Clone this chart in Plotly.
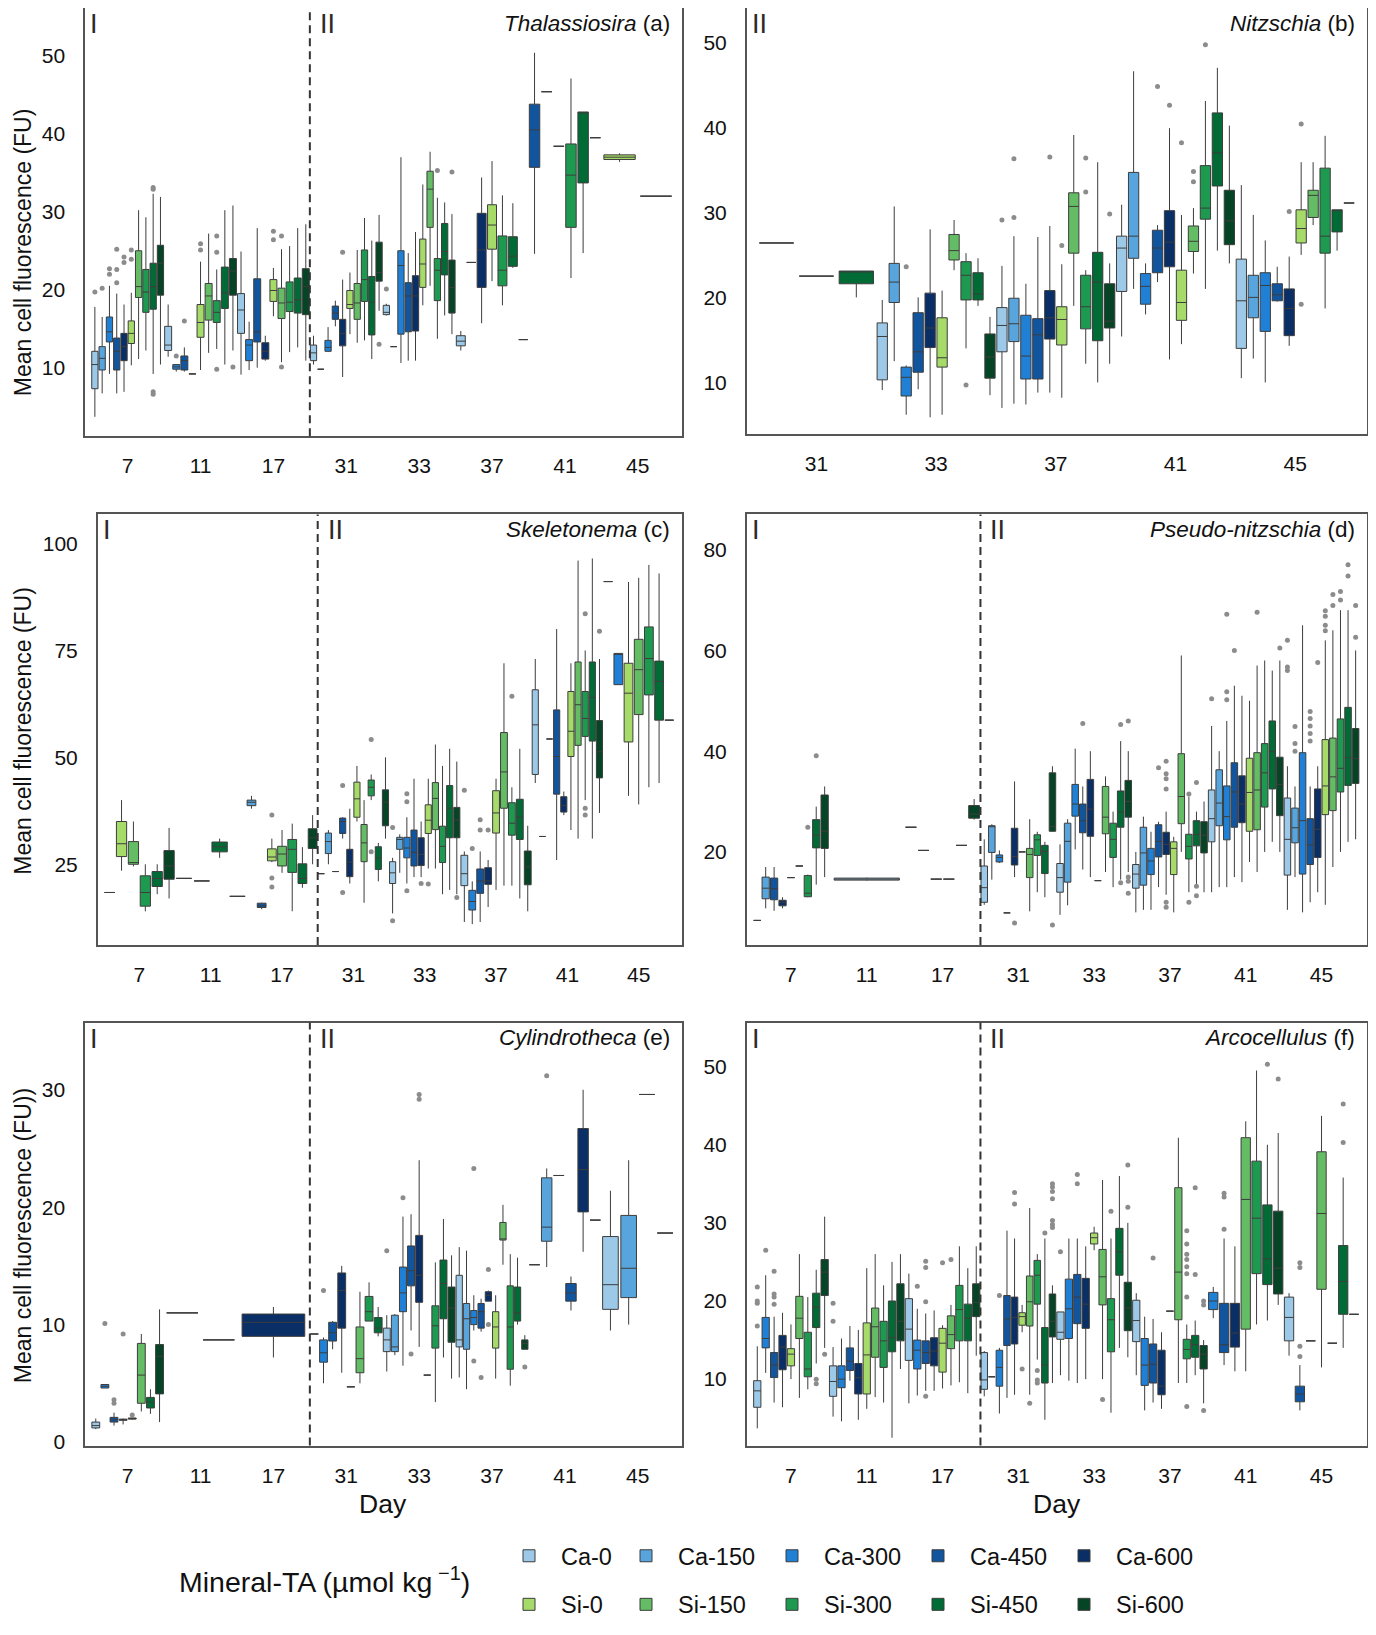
import plotly.graph_objects as go

# treatments and their fill colours
treatments = ["Ca-0", "Ca-150", "Ca-300", "Ca-450", "Ca-600",
              "Si-0", "Si-150", "Si-300", "Si-450", "Si-600"]
colors = ["#9dc9e8", "#58a5de", "#1f80d6", "#11559f", "#0a2f66",
          "#a6da69", "#64bd64", "#1e9a50", "#016b36", "#054526"]

days_full = ["7", "11", "17", "31", "33", "37", "41", "45"]
days_phase2 = ["31", "33", "37", "41", "45"]

# box rows: (day, treatment, lower whisker, q1, median, q3, upper whisker)
# rows with a single value are samples with one observation
thal_boxes = [
    ("7", "Ca-0", 3.7, 7.3, 10.4, 12.1, 17.8), ("7", "Ca-150", 6.7, 9.7, 11.2, 12.7, 16.5),
    ("7", "Ca-300", 9.2, 13.3, 14.6, 16.5, 20.5), ("7", "Ca-450", 6.7, 9.7, 12.1, 13.8, 19.5),
    ("7", "Ca-600", 6.9, 10.9, 12.7, 14.4, 18.1), ("7", "Si-0", 10.3, 13.1, 14.4, 16.0, 19.6),
    ("7", "Si-150", 11.1, 19.0, 20.4, 25.0, 30.2), ("7", "Si-300", 12.2, 17.1, 19.7, 22.6, 29.3),
    ("7", "Si-450", 9.2, 17.5, 20.4, 23.4, 32.3), ("7", "Si-600", 10.4, 19.3, 23.4, 25.7, 31.9),
    ("11", "Ca-0", 11.4, 12.2, 12.9, 15.3, 18.1), ("11", "Ca-300", 9.5, 9.8, 10.1, 10.4, 10.4),
    ("11", "Ca-450", 9.5, 9.7, 10.9, 11.5, 12.6), ("11", "Ca-600", 9.2),
    ("11", "Si-0", 9.7, 13.9, 15.8, 18.1, 23.6), ("11", "Si-150", 11.9, 16.1, 19.2, 20.8, 27.2),
    ("11", "Si-300", 12.4, 15.8, 17.1, 18.6, 22.6), ("11", "Si-450", 10.4, 17.6, 19.6, 22.9, 30.2),
    ("11", "Si-600", 12.2, 19.3, 22.4, 24.0, 30.8),
    ("17", "Ca-0", 9.1, 14.4, 17.4, 19.5, 24.9), ("17", "Ca-300", 9.7, 10.9, 12.9, 13.6, 15.9),
    ("17", "Ca-450", 10.0, 13.3, 14.6, 21.4, 27.9), ("17", "Ca-600", 10.9, 11.1, 12.1, 13.2, 14.1),
    ("17", "Si-0", 16.6, 18.5, 19.9, 21.3, 22.8), ("17", "Si-150", 10.7, 16.3, 18.3, 20.2, 25.2),
    ("17", "Si-300", 12.0, 17.2, 18.4, 21.0, 25.6), ("17", "Si-450", 12.6, 17.0, 18.7, 21.5, 27.9),
    ("17", "Si-600", 10.9, 16.8, 20.4, 22.7, 28.4),
    ("31", "Ca-0", 10.4, 10.9, 11.9, 12.9, 14.1), ("31", "Ca-150", 9.8),
    ("31", "Ca-300", 12.0, 12.1, 12.6, 13.5, 15.2), ("31", "Ca-450", 15.3, 16.2, 17.0, 17.9, 18.6),
    ("31", "Ca-600", 8.8, 12.8, 14.4, 16.2, 21.3), ("31", "Si-0", 14.3, 17.6, 18.1, 19.9, 22.2),
    ("31", "Si-150", 13.2, 16.2, 18.3, 20.8, 25.1), ("31", "Si-300", 13.5, 18.5, 21.3, 25.1, 29.2),
    ("31", "Si-450", 11.1, 14.2, 18.4, 21.7, 26.3), ("31", "Si-600", 17.3, 21.1, 22.2, 26.1, 29.6),
    ("33", "Ca-0", 16.7, 16.8, 17.1, 18.0, 18.2), ("33", "Ca-150", 12.7),
    ("33", "Ca-300", 10.6, 14.3, 23.1, 25.0, 37.0), ("33", "Ca-450", 10.9, 14.6, 19.2, 20.9, 24.7),
    ("33", "Ca-600", 10.9, 14.7, 19.2, 21.8, 27.4), ("33", "Si-0", 18.0, 20.3, 23.3, 26.5, 33.5),
    ("33", "Si-150", 20.5, 28.0, 32.9, 35.2, 37.7), ("33", "Si-300", 13.7, 18.6, 22.5, 24.0, 31.8),
    ("33", "Si-450", 16.7, 21.9, 24.9, 28.5, 31.2), ("33", "Si-600", 14.3, 17.0, 20.3, 23.8, 29.7),
    ("37", "Ca-0", 12.2, 12.8, 13.4, 14.1, 14.7), ("37", "Ca-150", 23.5),
    ("37", "Ca-600", 15.7, 20.3, 25.1, 29.8, 34.4), ("37", "Si-0", 21.1, 25.2, 28.3, 30.9, 36.5),
    ("37", "Si-300", 18.0, 20.5, 22.5, 26.9, 32.1), ("37", "Si-450", 22.8, 23.0, 24.3, 26.8, 31.1),
    ("37", "Si-600", 13.6),
    ("41", "Ca-450", 24.6, 35.7, 40.5, 43.8, 50.4), ("41", "Ca-600", 45.4), ("41", "Si-0", 38.4),
    ("41", "Si-300", 21.5, 28.0, 34.7, 38.7, 47.1), ("41", "Si-450", 24.7, 33.7, 42.8, 42.8, 42.8),
    ("41", "Si-600", 39.5),
    ("45", "Si-0", 36.4, 36.7, 37.0, 37.3, 37.5), ("45", "Si-600", 32.0),
]
thal_outliers = [
    ("7", "Ca-0", [19.7]), ("7", "Ca-150", [20.2]), ("7", "Ca-300", [22.0, 22.7]),
    ("7", "Ca-450", [25.2, 22.6, 20.9]), ("7", "Ca-600", [24.2, 23.5]), ("7", "Si-0", [25.1, 23.9]),
    ("7", "Si-450", [33.1, 32.9, 6.9, 6.6]), ("11", "Ca-300", [11.5]), ("11", "Ca-450", [16.0]),
    ("11", "Si-0", [25.1, 25.9]), ("11", "Si-300", [26.9, 24.8, 9.8]), ("11", "Si-600", [10.1]),
    ("17", "Si-0", [27.5, 26.4]), ("17", "Si-150", [26.9, 10.1]), ("31", "Ca-600", [24.8]),
    ("31", "Si-600", [13.0]), ("33", "Ca-0", [20.1]), ("33", "Si-300", [35.3]), ("33", "Si-600", [35.1]),
]

nitz_boxes = [
    ("31", "Ca-0", 26.4), ("31", "Ca-150", 22.5), ("31", "Si-450", 20.0, 21.6, 23.0, 23.1, 23.1),
    ("33", "Ca-0", 9.1, 10.3, 15.4, 17.0, 19.7), ("33", "Ca-150", 12.5, 19.4, 21.8, 24.0, 30.7),
    ("33", "Ca-300", 6.2, 8.4, 10.6, 11.8, 12.0), ("33", "Ca-450", 9.2, 11.2, 13.6, 18.2, 20.0),
    ("33", "Ca-600", 5.9, 14.1, 16.4, 20.5, 28.0), ("33", "Si-0", 6.2, 11.8, 12.9, 17.6, 20.8),
    ("33", "Si-150", 23.2, 24.4, 25.5, 27.4, 29.1), ("33", "Si-300", 14.0, 19.7, 22.6, 24.2, 25.2),
    ("33", "Si-450", 19.0, 19.7, 20.4, 22.9, 24.6), ("33", "Si-600", 8.5, 10.5, 13.0, 15.7, 17.7),
    ("37", "Ca-0", 7.0, 13.6, 16.7, 18.8, 23.7), ("37", "Ca-150", 7.5, 14.8, 16.9, 19.9, 27.2),
    ("37", "Ca-300", 7.4, 10.4, 13.1, 17.9, 21.6), ("37", "Ca-450", 8.8, 10.4, 15.6, 17.5, 27.1),
    ("37", "Ca-600", 8.8, 15.1, 17.6, 20.8, 28.4), ("37", "Si-0", 8.2, 14.4, 17.4, 18.9, 23.9),
    ("37", "Si-150", 19.0, 25.2, 30.7, 32.3, 39.1), ("37", "Si-300", 12.2, 16.3, 18.9, 22.6, 23.2),
    ("37", "Si-450", 10.0, 14.9, 21.8, 25.3, 35.9), ("37", "Si-600", 12.2, 16.4, 17.2, 21.6, 24.0),
    ("41", "Ca-0", 15.4, 20.7, 25.8, 27.2, 30.9), ("41", "Ca-150", 21.0, 24.6, 27.2, 34.7, 46.6),
    ("41", "Ca-300", 18.0, 19.2, 21.3, 22.8, 24.0), ("41", "Ca-450", 21.8, 22.9, 25.8, 27.9, 28.5),
    ("41", "Ca-600", 12.7, 23.6, 26.5, 30.2, 39.9), ("41", "Si-0", 14.5, 17.3, 19.4, 23.2, 29.7),
    ("41", "Si-150", 22.8, 25.4, 26.6, 28.4, 30.5), ("41", "Si-300", 21.0, 29.2, 30.5, 35.5, 43.1),
    ("41", "Si-450", 25.5, 33.1, 37.0, 41.7, 47.0), ("41", "Si-600", 24.0, 26.2, 29.0, 32.6, 40.2),
    ("45", "Ca-0", 10.5, 14.0, 19.6, 24.5, 33.2), ("45", "Ca-150", 12.8, 17.6, 20.0, 22.6, 29.7),
    ("45", "Ca-300", 10.0, 16.0, 21.4, 22.9, 26.7), ("45", "Ca-450", 19.5, 19.6, 20.3, 21.6, 23.6),
    ("45", "Ca-600", 14.3, 15.5, 18.7, 21.0, 24.8), ("45", "Si-0", 25.0, 26.4, 28.1, 30.3, 35.9),
    ("45", "Si-150", 28.5, 29.4, 32.0, 32.6, 35.9), ("45", "Si-300", 18.7, 25.2, 27.2, 35.2, 39.0),
    ("45", "Si-450", 25.5, 27.7, 30.2, 30.3, 30.3), ("45", "Si-600", 31.1),
]
nitz_outliers = [
    ("33", "Ca-300", [23.6]), ("33", "Si-300", [9.7]), ("37", "Ca-0", [29.1]),
    ("37", "Ca-150", [29.4, 36.3]), ("37", "Ca-600", [36.5]), ("37", "Si-0", [26.1]),
    ("37", "Si-300", [36.4, 32.4]), ("37", "Si-600", [29.8]), ("41", "Ca-450", [44.8]),
    ("41", "Ca-600", [42.6]), ("41", "Si-0", [38.2]), ("41", "Si-150", [34.8, 33.6]),
    ("41", "Si-300", [49.7]), ("45", "Ca-600", [30.1]), ("45", "Si-0", [40.4, 19.2]),
]

skel_boxes = [
    ("7", "Ca-0", 18.4), ("7", "Si-0", 23.5, 26.8, 29.8, 35.0, 40.0),
    ("7", "Si-150", 24.5, 25.0, 25.4, 30.3, 35.0), ("7", "Si-300", 14.0, 15.2, 18.4, 22.3, 25.0),
    ("7", "Si-450", 18.0, 19.8, 21.7, 23.3, 25.0), ("7", "Si-600", 17.0, 21.5, 24.6, 28.2, 33.5),
    ("11", "Ca-0", 21.7), ("11", "Ca-600", 21.1), ("11", "Si-450", 26.5, 27.9, 29.1, 30.2, 31.0),
    ("11", "Si-600", 17.5),
    ("17", "Ca-150", 38.0, 38.7, 39.5, 40.0, 41.0), ("17", "Ca-450", 14.5, 14.9, 15.3, 15.9, 16.0),
    ("17", "Si-0", 25.5, 25.8, 26.7, 28.6, 31.0), ("17", "Si-150", 23.0, 24.6, 27.4, 29.2, 33.0),
    ("17", "Si-300", 14.0, 23.1, 28.5, 30.8, 34.5), ("17", "Si-450", 19.5, 20.5, 21.7, 25.1, 29.0),
    ("17", "Si-600", 25.0, 28.7, 31.2, 33.3, 36.5),
    ("31", "Ca-0", 22.8), ("31", "Ca-150", 25.0, 27.5, 30.3, 32.3, 33.0), ("31", "Ca-300", 23.3),
    ("31", "Ca-450", 31.0, 32.2, 35.0, 35.8, 36.0), ("31", "Ca-600", 20.5, 22.1, 25.5, 28.5, 38.0),
    ("31", "Si-0", 35.0, 36.0, 40.3, 44.2, 48.0), ("31", "Si-150", 16.0, 25.6, 30.0, 34.3, 40.0),
    ("31", "Si-300", 40.0, 41.0, 43.0, 44.7, 46.0), ("31", "Si-450", 21.0, 23.8, 26.5, 29.1, 30.0),
    ("31", "Si-600", 31.0, 34.0, 39.5, 42.4, 50.0),
    ("33", "Ca-0", 13.5, 20.5, 23.0, 25.6, 26.5), ("33", "Ca-150", 23.0, 28.5, 30.8, 31.3, 32.0),
    ("33", "Ca-300", 20.5, 26.5, 28.8, 31.3, 36.0), ("33", "Ca-450", 22.0, 24.6, 27.8, 33.0, 45.0),
    ("33", "Ca-600", 22.0, 24.7, 27.3, 31.2, 35.0), ("33", "Si-0", 24.0, 32.2, 35.3, 38.9, 45.0),
    ("33", "Si-150", 24.0, 33.1, 40.4, 44.1, 53.0), ("33", "Si-300", 18.0, 25.4, 29.2, 33.9, 48.0),
    ("33", "Si-450", 19.0, 31.2, 38.1, 43.4, 52.0), ("33", "Si-600", 18.0, 31.2, 35.4, 38.3, 49.0),
    ("37", "Ca-0", 11.5, 20.0, 22.8, 27.1, 28.0), ("37", "Ca-300", 11.0, 14.3, 16.3, 18.9, 21.0),
    ("37", "Ca-450", 11.5, 18.2, 21.1, 23.9, 28.0), ("37", "Ca-600", 15.0, 20.3, 21.1, 24.2, 26.0),
    ("37", "Si-0", 19.0, 32.3, 37.0, 42.2, 45.0), ("37", "Si-150", 20.0, 38.1, 46.6, 55.8, 72.0),
    ("37", "Si-300", 20.0, 31.8, 34.6, 39.4, 43.0), ("37", "Si-450", 17.0, 30.8, 36.0, 40.2, 52.0),
    ("37", "Si-600", 14.0, 20.2, 24.4, 28.1, 34.0),
    ("41", "Ca-0", 44.0, 46.0, 57.6, 65.8, 73.0), ("41", "Ca-150", 31.5), ("41", "Ca-300", 54.3),
    ("41", "Ca-450", 26.0, 41.4, 50.2, 61.1, 80.0), ("41", "Ca-600", 36.5, 37.2, 38.7, 40.8, 42.0),
    ("41", "Si-0", 33.0, 50.2, 56.1, 65.4, 72.0), ("41", "Si-150", 31.0, 52.8, 62.3, 72.3, 96.0),
    ("41", "Si-300", 40.0, 54.9, 59.1, 65.4, 75.0), ("41", "Si-450", 31.0, 53.8, 64.0, 72.3, 96.5),
    ("41", "Si-600", 37.0, 45.2, 51.3, 58.6, 73.0),
    ("45", "Ca-0", 91.1), ("45", "Ca-300", 67.0, 67.0, 74.2, 74.3, 74.3),
    ("45", "Si-0", 41.0, 53.6, 65.0, 72.0, 91.0), ("45", "Si-150", 39.0, 60.0, 70.5, 77.6, 92.0),
    ("45", "Si-300", 43.0, 64.6, 73.1, 80.5, 95.0), ("45", "Si-450", 44.0, 58.7, 67.8, 72.5, 93.0),
    ("45", "Si-600", 58.7),
]
skel_outliers = [
    ("17", "Si-0", [36.5, 21.8, 19.7]), ("31", "Ca-450", [43.4, 18.4]), ("31", "Si-300", [54.2, 27.9]),
    ("33", "Ca-0", [33.6, 11.8]), ("33", "Ca-300", [41.5, 39.6, 18.8]), ("33", "Ca-600", [20.5]),
    ("33", "Si-0", [20.4]), ("33", "Si-600", [17.2]), ("37", "Ca-0", [42.3]), ("37", "Ca-300", [28.7]),
    ("37", "Ca-450", [35.4, 33.0]), ("37", "Ca-600", [33.0]), ("37", "Si-300", [64.3]),
    ("41", "Si-300", [83.6, 38.1, 36.5]), ("41", "Si-600", [79.5]),
]

pseudo_boxes = [
    ("7", "Ca-0", 6.4), ("7", "Ca-150", 8.8, 10.7, 12.8, 15.0, 17.0),
    ("7", "Ca-450", 8.3, 10.5, 12.7, 14.8, 17.0), ("7", "Ca-600", 8.8, 9.3, 10.0, 10.4, 11.0),
    ("7", "Si-0", 14.9), ("7", "Si-150", 17.2), ("7", "Si-300", 11.0, 11.1, 11.8, 15.3, 15.5),
    ("7", "Si-450", 13.5, 20.8, 23.3, 26.4, 29.0), ("7", "Si-600", 15.0, 20.7, 24.1, 31.3, 33.0),
    ("11", "Ca-0", 14.3, 14.4, 14.6, 14.8, 14.9),
    ("17", "Ca-0", 24.9), ("17", "Ca-150", 20.3), ("17", "Ca-300", 14.6), ("17", "Ca-450", 14.6),
    ("17", "Ca-600", 21.3), ("17", "Si-600", 26.4, 26.7, 27.5, 29.2, 30.5),
    ("31", "Ca-0", 9.5, 10.0, 12.9, 17.2, 22.5), ("31", "Ca-150", 14.5, 19.9, 25.1, 25.2, 25.5),
    ("31", "Ca-300", 17.8, 18.0, 18.9, 19.4, 20.3), ("31", "Ca-450", 7.9),
    ("31", "Ca-600", 15.0, 17.4, 19.1, 24.7, 34.0), ("31", "Si-0", 20.0),
    ("31", "Si-150", 8.2, 14.9, 19.5, 20.7, 26.5), ("31", "Si-300", 12.0, 19.3, 22.4, 23.4, 24.0),
    ("31", "Si-450", 11.0, 15.7, 20.1, 21.3, 22.0), ("31", "Si-600", 24.0, 24.1, 25.0, 35.7, 37.0),
    ("33", "Ca-0", 7.5, 12.0, 14.9, 17.7, 21.5), ("33", "Ca-150", 9.4, 14.0, 22.1, 25.7, 26.5),
    ("33", "Ca-300", 20.5, 27.1, 29.5, 33.4, 40.5), ("33", "Ca-450", 16.5, 23.8, 26.2, 29.5, 33.0),
    ("33", "Ca-600", 15.0, 23.1, 28.5, 34.4, 40.0), ("33", "Si-0", 14.3),
    ("33", "Si-150", 16.0, 23.6, 26.9, 33.0, 35.0), ("33", "Si-300", 13.0, 18.9, 22.5, 25.7, 28.0),
    ("33", "Si-450", 14.5, 24.9, 27.9, 32.1, 42.0), ("33", "Si-600", 16.0, 26.9, 30.0, 34.2, 40.0),
    ("37", "Ca-0", 8.0, 12.8, 15.6, 17.5, 20.0), ("37", "Ca-150", 8.5, 13.4, 19.8, 24.9, 27.0),
    ("37", "Ca-300", 8.5, 15.5, 18.2, 20.7, 24.0), ("37", "Ca-450", 13.0, 19.0, 22.1, 25.4, 26.0),
    ("37", "Ca-600", 11.5, 19.5, 21.5, 23.9, 28.0), ("37", "Si-0", 8.0, 15.5, 20.7, 22.0, 23.0),
    ("37", "Si-150", 20.0, 25.6, 31.0, 39.5, 59.0), ("37", "Si-300", 12.0, 18.6, 21.1, 23.5, 31.0),
    ("37", "Si-450", 13.5, 21.2, 23.5, 26.2, 28.0), ("37", "Si-600", 12.0, 19.8, 23.3, 26.0, 30.0),
    ("41", "Ca-0", 12.0, 22.0, 26.6, 32.3, 45.0), ("41", "Ca-150", 13.0, 25.2, 29.7, 36.3, 40.0),
    ("41", "Ca-300", 13.0, 22.4, 27.0, 33.1, 46.0), ("41", "Ca-450", 15.0, 24.9, 31.9, 37.7, 53.0),
    ("41", "Ca-600", 14.0, 25.8, 29.5, 35.1, 51.0), ("41", "Si-0", 18.0, 24.1, 31.8, 38.6, 50.0),
    ("41", "Si-150", 16.0, 24.4, 32.3, 39.7, 57.0), ("41", "Si-300", 20.0, 28.9, 35.7, 41.5, 58.0),
    ("41", "Si-450", 22.0, 32.5, 39.9, 46.0, 56.0), ("41", "Si-600", 20.0, 27.2, 33.4, 38.8, 58.0),
    ("45", "Ca-0", 8.5, 15.4, 22.5, 30.7, 37.0), ("45", "Ca-150", 15.0, 21.8, 24.8, 28.7, 33.0),
    ("45", "Ca-300", 8.0, 15.6, 26.2, 39.7, 65.0), ("45", "Ca-450", 10.0, 17.5, 21.4, 26.6, 33.0),
    ("45", "Ca-600", 12.0, 18.9, 24.5, 32.5, 37.0), ("45", "Si-0", 9.5, 27.4, 33.1, 42.3, 62.0),
    ("45", "Si-150", 17.0, 28.2, 34.9, 42.6, 64.0), ("45", "Si-300", 20.0, 31.9, 36.6, 46.4, 68.0),
    ("45", "Si-450", 22.0, 33.2, 38.7, 48.7, 68.0), ("45", "Si-600", 22.5, 33.6, 38.5, 44.5, 60.0),
]
pseudo_outliers = [
    ("7", "Si-300", [24.9]), ("7", "Si-450", [39.1]), ("31", "Ca-600", [5.9]), ("31", "Si-600", [5.5]),
    ("33", "Ca-450", [45.5]), ("33", "Si-450", [45.3, 13.9]), ("33", "Si-600", [46.0, 15.0, 14.2, 11.8]),
    ("37", "Ca-450", [36.7]), ("37", "Ca-600", [38.0, 35.5, 34.5, 32.5, 10.0, 9.0]),
    ("37", "Si-300", [31.5, 10.0]), ("37", "Si-450", [33.8, 13.2, 11.3]), ("41", "Ca-0", [50.4]),
    ("41", "Ca-300", [67.2, 51.8, 50.2]), ("41", "Ca-450", [60.0]), ("41", "Si-150", [67.6]),
    ("41", "Si-600", [60.5]), ("45", "Ca-0", [62.0, 56.7, 56.0]), ("45", "Ca-150", [44.9, 41.5, 40.0]),
    ("45", "Ca-450", [47.9, 46.5, 45.0, 43.5, 42.0]), ("45", "Ca-600", [57.6]),
    ("45", "Si-0", [67.9, 66.8, 65.0, 63.9]), ("45", "Si-150", [71.1, 68.9]),
    ("45", "Si-300", [71.7, 70.0]), ("45", "Si-450", [77.0, 74.8]), ("45", "Si-600", [68.9, 62.6]),
]

cyl_boxes = [
    ("7", "Ca-0", 1.1, 1.2, 1.4, 1.7, 2.0), ("7", "Ca-300", 4.6, 4.6, 4.75, 4.9, 4.9),
    ("7", "Ca-450", 1.4, 1.7, 1.9, 2.1, 2.5), ("7", "Ca-600", 1.5, 1.85, 1.9, 1.95, 2.0),
    ("7", "Si-0", 1.9, 1.95, 2.0, 2.05, 2.1), ("7", "Si-150", 2.6, 3.3, 5.7, 8.4, 9.2),
    ("7", "Si-450", 2.4, 2.9, 3.4, 3.8, 4.5), ("7", "Si-600", 1.7, 4.1, 7.3, 8.3, 11.3),
    ("11", "Ca-0", 11.0), ("11", "Si-0", 8.7),
    ("17", "Ca-600", 7.2, 9.0, 10.2, 10.9, 11.5),
    ("31", "Ca-0", 9.2), ("31", "Ca-300", 5.0, 6.8, 7.6, 8.7, 8.9),
    ("31", "Ca-450", 7.9, 8.6, 9.3, 10.2, 10.3), ("31", "Ca-600", 5.9, 9.7, 12.9, 14.4, 15.0),
    ("31", "Si-0", 4.7), ("31", "Si-150", 5.0, 5.9, 7.1, 9.8, 12.8),
    ("31", "Si-300", 10.3, 10.3, 11.1, 12.4, 13.6), ("31", "Si-450", 9.0, 9.3, 9.7, 10.6, 11.5),
    ("33", "Ca-0", 6.0, 7.7, 8.7, 9.7, 10.8), ("33", "Ca-150", 7.4, 7.7, 8.1, 10.8, 10.9),
    ("33", "Ca-300", 6.5, 11.1, 12.7, 14.9, 19.2), ("33", "Ca-450", 9.5, 13.3, 14.6, 16.7, 19.4),
    ("33", "Ca-600", 8.1, 11.9, 14.2, 17.6, 24.0), ("33", "Si-0", 5.7),
    ("33", "Si-300", 3.4, 8.0, 9.9, 11.6, 15.3), ("33", "Si-450", 7.2, 10.5, 13.5, 15.5, 19.0),
    ("33", "Si-600", 5.4, 8.5, 11.4, 13.2, 15.9),
    ("37", "Ca-0", 5.5, 8.1, 8.7, 14.2, 16.6), ("37", "Ca-150", 4.5, 7.9, 10.5, 11.8, 16.3),
    ("37", "Ca-300", 9.5, 10.0, 10.6, 11.2, 12.5), ("37", "Ca-450", 9.4, 9.7, 11.1, 11.8, 12.2),
    ("37", "Ca-600", 12.0, 12.0, 12.5, 12.8, 12.9), ("37", "Si-0", 5.4, 8.0, 9.8, 11.1, 12.5),
    ("37", "Si-150", 15.1, 17.2, 17.3, 18.7, 20.2), ("37", "Si-300", 4.8, 6.2, 9.8, 13.3, 16.0),
    ("37", "Si-450", 10.0, 10.3, 11.0, 13.2, 15.7), ("37", "Si-600", 7.9, 7.9, 8.4, 8.7, 9.1),
    ("41", "Ca-0", 15.1), ("41", "Ca-150", 14.9, 17.1, 18.3, 22.5, 23.3), ("41", "Ca-300", 22.7),
    ("41", "Ca-450", 11.2, 12.0, 12.7, 13.5, 14.1), ("41", "Ca-600", 16.2, 19.6, 23.2, 26.7, 30.0),
    ("41", "Si-0", 18.9),
    ("45", "Ca-0", 9.5, 11.3, 13.4, 17.5, 21.4), ("45", "Ca-150", 10.0, 12.3, 14.8, 19.3, 24.0),
    ("45", "Si-0", 29.6), ("45", "Si-150", 17.8),
]
cyl_outliers = [
    ("7", "Ca-300", [10.1]), ("7", "Ca-450", [3.3, 3.6]), ("7", "Ca-600", [9.2]), ("7", "Si-0", [2.3]),
    ("31", "Ca-300", [12.9]), ("33", "Ca-0", [16.3]), ("33", "Ca-300", [20.8]), ("33", "Ca-450", [7.5]),
    ("33", "Ca-600", [29.6, 29.2]), ("37", "Ca-300", [23.3, 6.9]), ("37", "Ca-450", [5.5]),
    ("37", "Ca-600", [14.7, 10.0]), ("37", "Si-600", [6.4]), ("41", "Ca-150", [31.2]),
]

arco_boxes = [
    ("7", "Ca-0", 3.7, 6.4, 8.5, 9.8, 14.2), ("7", "Ca-300", 10.8, 14.0, 15.2, 17.9, 23.3),
    ("7", "Ca-450", 7.0, 10.2, 11.8, 13.4, 18.0), ("7", "Ca-600", 6.4, 11.2, 14.1, 15.6, 18.5),
    ("7", "Si-0", 10.0, 11.7, 13.2, 13.9, 17.0), ("7", "Si-150", 7.6, 15.2, 17.8, 20.6, 26.0),
    ("7", "Si-300", 8.7, 10.3, 11.3, 16.0, 20.5), ("7", "Si-450", 12.0, 16.6, 19.2, 21.0, 24.0),
    ("7", "Si-600", 14.0, 20.7, 23.7, 25.3, 30.8),
    ("11", "Ca-0", 5.2, 7.8, 9.7, 11.7, 14.1), ("11", "Ca-300", 4.6, 8.9, 10.0, 11.7, 15.2),
    ("11", "Ca-450", 9.8, 11.1, 12.3, 14.0, 16.8), ("11", "Ca-600", 4.8, 8.1, 10.2, 12.0, 16.3),
    ("11", "Si-0", 6.2, 8.1, 13.1, 17.2, 24.2), ("11", "Si-150", 7.7, 12.8, 16.7, 19.1, 26.0),
    ("11", "Si-300", 7.0, 11.5, 14.9, 17.4, 22.0), ("11", "Si-450", 2.5, 13.5, 15.3, 20.0, 25.0),
    ("11", "Si-600", 11.3, 14.9, 17.4, 22.2, 26.0),
    ("17", "Ca-0", 6.9, 12.4, 16.4, 20.3, 23.5), ("17", "Ca-300", 7.9, 11.3, 13.7, 15.0, 19.0),
    ("17", "Ca-450", 8.5, 12.0, 13.4, 14.9, 18.4), ("17", "Ca-600", 8.5, 11.7, 13.6, 15.3, 18.8),
    ("17", "Si-0", 8.8, 10.9, 14.6, 16.5, 16.9), ("17", "Si-150", 9.2, 13.9, 15.7, 18.1, 19.5),
    ("17", "Si-300", 9.6, 14.9, 18.9, 22.0, 27.0), ("17", "Si-450", 8.2, 14.9, 17.8, 19.6, 24.2),
    ("17", "Si-600", 13.0, 18.0, 19.8, 22.2, 27.0),
    ("31", "Ca-0", 7.8, 8.7, 9.9, 13.4, 13.6), ("31", "Ca-150", 10.3),
    ("31", "Ca-300", 5.6, 9.1, 11.5, 13.7, 14.0), ("31", "Ca-450", 7.6, 14.3, 17.7, 20.7, 29.0),
    ("31", "Ca-600", 8.0, 14.5, 17.9, 20.5, 28.0), ("31", "Si-0", 16.0, 16.9, 18.0, 18.5, 19.5),
    ("31", "Si-150", 8.0, 16.8, 19.9, 23.2, 31.9), ("31", "Si-300", 12.5, 19.6, 23.3, 25.2, 26.0),
    ("31", "Si-450", 4.8, 9.5, 11.8, 16.6, 28.0), ("31", "Si-600", 9.5, 15.4, 17.4, 20.9, 22.0),
    ("33", "Ca-0", 10.5, 15.1, 16.0, 18.6, 18.6), ("33", "Ca-300", 9.8, 15.2, 19.0, 22.8, 28.0),
    ("33", "Ca-450", 9.5, 17.1, 20.5, 23.4, 28.0), ("33", "Ca-600", 10.0, 16.5, 19.6, 22.9, 27.0),
    ("33", "Si-0", 26.5, 27.3, 28.1, 28.7, 29.5), ("33", "Si-150", 10.0, 19.5, 23.1, 26.6, 35.5),
    ("33", "Si-300", 5.7, 13.5, 17.6, 20.3, 28.0), ("33", "Si-450", 14.0, 23.3, 26.3, 29.3, 36.0),
    ("33", "Si-600", 12.8, 16.2, 19.1, 22.4, 30.0),
    ("37", "Ca-0", 10.5, 14.8, 17.5, 20.1, 21.0), ("37", "Ca-300", 6.0, 9.2, 11.8, 15.2, 18.0),
    ("37", "Ca-450", 7.0, 9.5, 11.9, 14.5, 17.7), ("37", "Ca-600", 6.2, 8.0, 9.1, 13.7, 16.0),
    ("37", "Si-0", 18.7), ("37", "Si-150", 9.5, 17.6, 23.7, 34.5, 40.9),
    ("37", "Si-300", 9.5, 12.6, 13.8, 15.1, 17.0), ("37", "Si-450", 10.5, 12.8, 14.4, 15.6, 17.5),
    ("37", "Si-600", 6.9, 11.3, 13.2, 14.3, 15.0),
    ("41", "Ca-300", 17.8, 18.9, 20.0, 21.1, 21.8), ("41", "Ca-450", 11.8, 13.4, 14.4, 19.7, 28.0),
    ("41", "Ca-600", 11.0, 14.1, 15.9, 19.7, 27.0), ("41", "Si-150", 11.0, 16.4, 33.0, 40.9, 43.0),
    ("41", "Si-300", 17.0, 23.5, 30.6, 37.9, 49.5), ("41", "Si-450", 17.5, 22.1, 25.4, 32.3, 40.0),
    ("41", "Si-600", 19.5, 20.9, 24.2, 31.5, 41.5),
    ("45", "Ca-0", 13.0, 14.9, 17.9, 20.5, 21.0), ("45", "Ca-450", 6.0, 7.1, 8.1, 9.1, 11.8),
    ("45", "Ca-600", 14.9), ("45", "Si-150", 11.5, 21.5, 31.2, 39.1, 43.7), ("45", "Si-300", 14.6),
    ("45", "Si-450", 14.0, 18.3, 22.5, 27.1, 35.8), ("45", "Si-600", 18.3),
]
arco_outliers = [
    ("7", "Ca-0", [21.8, 19.7, 20.0, 16.8]), ("7", "Ca-300", [26.5]), ("7", "Ca-450", [23.8, 20.9, 20.5, 19.6]),
    ("7", "Si-450", [10.0, 9.4]), ("7", "Si-600", [13.2]), ("11", "Ca-0", [19.7, 17.4]),
    ("17", "Ca-300", [21.9]), ("17", "Ca-450", [25.1, 24.3, 19.9, 7.8]), ("17", "Si-0", [24.9]),
    ("17", "Si-150", [25.3]), ("31", "Ca-300", [20.7]), ("31", "Ca-600", [33.9, 32.4]),
    ("31", "Si-0", [11.3]), ("31", "Si-150", [6.9]), ("31", "Si-300", [11.1, 9.9, 9.5]),
    ("31", "Si-450", [28.7]), ("31", "Si-600", [35.0, 34.6, 34.0, 33.1, 30.3, 29.8, 29.4]),
    ("33", "Ca-0", [26.3]), ("33", "Ca-450", [36.2, 35.0]), ("33", "Si-150", [7.4]),
    ("33", "Si-300", [31.5]), ("33", "Si-600", [37.4, 32.0]), ("37", "Ca-450", [25.5]),
    ("37", "Si-300", [29.0, 27.3, 26.0, 25.3, 24.4, 23.5, 20.5, 6.5]), ("37", "Si-450", [34.5, 23.4]),
    ("37", "Si-600", [20.0, 19.5, 6.0]), ("41", "Ca-450", [33.8, 33.3, 29.2]),
    ("41", "Si-450", [50.3]), ("41", "Si-600", [48.4]), ("45", "Ca-450", [24.9, 24.3, 14.2, 12.9]),
    ("45", "Si-450", [45.2, 40.3]),
]

# page geometry (browser body margin of 8 px is taken off)
W, H = 1360, 1619
OFF = 8


def fx(px):
    return (px - OFF) / W


def fy(py):
    return 1 - (py - OFF) / H


FONT = "Liberation Sans, Arial, sans-serif"
LINE = "#3d3d3d"
ITEMW = 54

# legend columns: one small legend per column so Ca and Si rows line up
legend_names = ["legend", "legend2", "legend3", "legend4", "legend5"]
legend_col_px = [529, 646, 792, 938, 1084]

panels = [
    dict(boxes=thal_boxes, outl=thal_outliers, days=days_full, genus="Thalassiosira", tag="a",
         px=(85.4, 681.5), py=(8.3, 437.6), yr=(1.2, 56.1), yt=[10, 20, 30, 40, 50], phase1=True),
    dict(boxes=nitz_boxes, outl=nitz_outliers, days=days_phase2, genus="Nitzschia", tag="b",
         px=(747, 1367), py=(8.3, 435.6), yr=(3.9, 54.0), yt=[10, 20, 30, 40, 50], phase1=False),
    dict(boxes=skel_boxes, outl=skel_outliers, days=days_full, genus="Skeletonema", tag="c",
         px=(98, 681.5), py=(516, 948), yr=(6.1, 106.8), yt=[25, 50, 75, 100], phase1=True),
    dict(boxes=pseudo_boxes, outl=pseudo_outliers, days=days_full, genus="Pseudo-nitzschia", tag="d",
         px=(747, 1367), py=(516, 948), yr=(1.5, 87.0), yt=[20, 40, 60, 80], phase1=True),
    dict(boxes=cyl_boxes, outl=cyl_outliers, days=days_full, genus="Cylindrotheca", tag="e",
         px=(85.4, 681.5), py=(1026, 1450), yr=(-0.3, 35.7), yt=[0, 10, 20, 30], phase1=True),
    dict(boxes=arco_boxes, outl=arco_outliers, days=days_full, genus="Arcocellulus", tag="f",
         px=(747, 1367), py=(1026, 1450), yr=(1.5, 55.6), yt=[10, 20, 30, 40, 50], phase1=True),
]

fig = go.Figure()
layout = {}
annotations = []
shapes = []
shown = set()

for p_i, p in enumerate(panels):
    sfx = "" if p_i == 0 else str(p_i + 1)
    xa, ya = "x" + sfx, "y" + sfx
    days = p["days"]
    n_days = len(days)

    groups = {d: [] for d in days}
    for row in p["boxes"]:
        d, t = row[0], row[1]
        stats = row[2:] if len(row) == 7 else (row[2],) * 5
        groups[d].append((treatments.index(t), t, stats))

    pos = {}
    for di, d in enumerate(days):
        items = sorted(groups[d])
        n = len(items)
        for k, (ti, t, s) in enumerate(items):
            xpos = di - 0.5 + (k + 0.5) / n
            pos[(d, t)] = xpos
            lo, q1, med, q3, hi = s
            first = t not in shown
            shown.add(t)
            fig.add_trace(go.Box(
                x=[xpos], q1=[q1], median=[med], q3=[q3], lowerfence=[lo], upperfence=[hi],
                width=0.86 / n, fillcolor=colors[ti], line=dict(color=LINE, width=1),
                whiskerwidth=0, name=t, legendgroup=t, showlegend=first, legendrank=ti,
                legend=legend_names[ti % 5],
                xaxis=xa, yaxis=ya, hoverinfo="skip",
            ))

    ox, oy = [], []
    for d, t, vals in p["outl"]:
        for v in vals:
            ox.append(pos[(d, t)])
            oy.append(v)
    fig.add_trace(go.Scatter(x=ox, y=oy, mode="markers", marker=dict(color="#8c8c8c", size=5),
                             showlegend=False, xaxis=xa, yaxis=ya, hoverinfo="skip"))

    x0, x1 = p["px"]
    y0, y1 = p["py"]
    layout["xaxis" + sfx] = dict(
        domain=[fx(x0), fx(x1)], anchor=ya, range=[-0.58, n_days - 0.4],
        tickmode="array", tickvals=list(range(n_days)), ticktext=days,
        showgrid=False, zeroline=False, showline=True, mirror=True,
        linecolor="#555555", linewidth=2, ticks="", ticklabelstandoff=10,
        tickfont=dict(size=21, color="#111111"), fixedrange=True,
    )
    layout["yaxis" + sfx] = dict(
        domain=[fy(y1), fy(y0)], anchor=xa, range=list(p["yr"]),
        tickmode="array", tickvals=p["yt"],
        showgrid=False, zeroline=False, showline=True, mirror=True,
        linecolor="#555555", linewidth=2, ticks="", ticklabelstandoff=14,
        tickfont=dict(size=21, color="#111111"), fixedrange=True,
    )

    label_y = fy(y0 + 16)
    phase_font = dict(size=27, color="#2b2b2b")
    if p["phase1"]:
        shapes.append(dict(type="line", xref=xa, yref=ya + " domain", x0=2.5, x1=2.5, y0=0, y1=1,
                           line=dict(color="#333333", width=2, dash="8px,5px")))
        annotations.append(dict(text="I", x=fx(x0 + 3), y=label_y, xref="paper", yref="paper",
                                xanchor="left", yanchor="middle", showarrow=False, font=phase_font))
        dash_px = x0 + (2.5 + 0.58) * (x1 - x0) / (n_days + 0.18)
        annotations.append(dict(text="II", x=fx(dash_px + 8), y=label_y, xref="paper", yref="paper",
                                xanchor="left", yanchor="middle", showarrow=False, font=phase_font))
    else:
        annotations.append(dict(text="II", x=fx(x0 + 3), y=label_y, xref="paper", yref="paper",
                                xanchor="left", yanchor="middle", showarrow=False, font=phase_font))
    annotations.append(dict(text="<i>%s</i> (%s)" % (p["genus"], p["tag"]), x=fx(x1 - 10), y=fy(y0 + 15),
                            xref="paper", yref="paper", xanchor="right", yanchor="middle",
                            showarrow=False, font=dict(size=22.5, color="#111111")))

# axis titles
for txt, ypx in [("Mean cell fluorescence (FU)", 253), ("Mean cell fluorescence (FU)", 733),
                 ("Mean cell fluorescence (FU))", 1240)]:
    annotations.append(dict(text=txt, x=0, y=fy(ypx), xref="paper", yref="paper",
                            textangle=-90, xanchor="left", yanchor="middle", showarrow=False,
                            font=dict(size=23, color="#111111")))
for xpx in [383, 1057]:
    annotations.append(dict(text="Day", x=fx(xpx), y=fy(1509), xref="paper", yref="paper",
                            xanchor="center", yanchor="middle", showarrow=False,
                            font=dict(size=26.5, color="#111111")))
annotations.append(dict(text="Mineral-TA (µmol kg<sup> −1</sup>)", x=fx(324), y=fy(1585),
                        xref="paper", yref="paper", xanchor="center", yanchor="middle",
                        showarrow=False, font=dict(size=28.5, color="#111111")))

legends = {}
for name, cx in zip(legend_names, legend_col_px):
    legends[name] = dict(
        orientation="v", xanchor="left", yanchor="middle",
        x=fx(cx - 5 - ITEMW / 2), y=fy(1585.5),
        font=dict(size=23.5, color="#111111"), bgcolor="rgba(0,0,0,0)",
        itemwidth=ITEMW, traceorder="grouped", tracegroupgap=15,
    )

fig.update_layout(
    **layout,
    **legends,
    width=W, height=H, autosize=False,
    margin=dict(l=0, r=0, t=0, b=0),
    template="none",
    paper_bgcolor="white", plot_bgcolor="white",
    font=dict(family=FONT, color="#111111"),
    boxmode="overlay",
    annotations=annotations,
    shapes=shapes,
)

fig.write_html("out.html")
